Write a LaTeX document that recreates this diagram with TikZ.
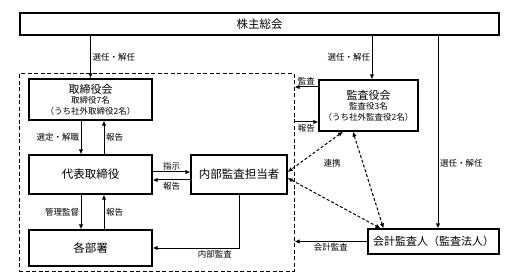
\documentclass[tikz,border=0pt]{standalone}
\usepackage{fontspec}
\setmainfont{Noto Sans CJK JP}
\usetikzlibrary{arrows.meta}
\begin{document}
\begin{tikzpicture}[x=1pt,y=-1pt,>={Latex[length=5pt,width=4.5pt]},
    box/.style={draw,line width=1.3pt,inner sep=0pt,align=center,font=\fontsize{11.5}{13}\selectfont},
    lab/.style={inner sep=1.5pt,font=\fontsize{8.5}{10}\selectfont},
    link/.style={<->,line width=1pt,dash pattern=on 3pt off 2pt}]
        \useasboundingbox (0,0) rectangle (518,280);
        % company (dashed)
        \node[draw,line width=1pt,dash pattern=on 4pt off 2.5pt,minimum width=275,minimum height=197] (kaisha) at (156.5,172.5) {};
        % boxes
        \node[box,minimum width=479,minimum height=22] (soukai) at (259.5,24) {株主総会};
        \node[box,minimum width=123,minimum height=41,font=\fontsize{8.5}{10.5}\selectfont] (torishimari) at (90.5,99.5)
            {{\fontsize{11}{12}\selectfont 取締役会}\\取締役7名\\（うち社外取締役2名）};
        \node[box,minimum width=123,minimum height=39] (daihyo) at (90.5,174.5) {代表取締役};
        \node[box,minimum width=123,minimum height=36] (kakubusho) at (90.5,248) {各部署};
        \node[box,minimum width=96,minimum height=39] (naibu) at (239,174.5) {内部監査担当者};
        \node[box,minimum width=99,minimum height=51,font=\fontsize{8.5}{10.5}\selectfont] (kansayaku) at (368.5,105.5)
            {{\fontsize{11}{12}\selectfont 監査役会}\\監査役3名\\（うち社外監査役2名）};
        \node[box,minimum width=131,minimum height=25,font=\fontsize{11}{12}\selectfont] (kaikei) at (433.5,241.5) {会計監査人（監査法人）};
        % shareholders
        \draw[->,line width=1pt](torishimari.north |- soukai.south) -- node[lab,right]{選任・解任} (torishimari.north);
        \draw[->,line width=1pt]([xshift=3.5pt]kansayaku.north |- soukai.south) -- node[lab,left]{選任・解任} ([xshift=3.5pt]kansayaku.north);
        \draw[->,line width=1pt]([xshift=4.5pt]kaikei.north |- soukai.south) -- node[lab,right,pos=0.66]{選任・解任} ([xshift=4.5pt]kaikei.north);
        % inside the company
        \draw[->,line width=1pt]([xshift=-9.5pt]torishimari.south) -- node[lab,left]{選定・解職} ([xshift=-9.5pt]daihyo.north);
        \draw[->,line width=1pt]([xshift=13.5pt]daihyo.north) -- node[lab,right]{報告} ([xshift=13.5pt]torishimari.south);
        \draw[->,line width=1pt]([xshift=-9.5pt]daihyo.south) -- node[lab,left]{管理監督} ([xshift=-9.5pt]kakubusho.north);
        \draw[->,line width=1pt]([xshift=13.5pt]kakubusho.north) -- node[lab,right]{報告} ([xshift=13.5pt]daihyo.south);
        \draw[->,line width=1pt]([yshift=2.5pt]daihyo.east) -- node[lab,above]{指示} ([yshift=2.5pt]naibu.west);
        \draw[->,line width=1pt]([yshift=-5.5pt]naibu.west) -- node[lab,below]{報告} ([yshift=-5.5pt]daihyo.east);
        \draw[->,line width=1pt](naibu.south) |- node[lab,below,pos=0.64]{内部監査} (kakubusho.east);
        % audits
        \draw[->,line width=1pt]([yshift=18.5pt]kansayaku.west) -- node[lab,above]{監査} ([yshift=18.5pt]kansayaku.west -| kaisha.east);
        \draw[->,line width=1pt]([yshift=-16.5pt]kansayaku.west -| kaisha.east) -- node[lab,below]{報告} ([yshift=-16.5pt]kansayaku.west);
        \draw[->,line width=1pt](kaikei.west) -- node[lab,below]{会計監査} (kaikei.west -| kaisha.east);
        % cooperation
        \draw[link]([xshift=-25.5pt]kansayaku.south) -- ([yshift=2.5pt]naibu.east);
        \draw[link]([yshift=-3.5pt]naibu.east) -- ([xshift=-53pt]kaikei.north);
        \draw[link]([xshift=-15.5pt]kansayaku.south) -- ([xshift=-50pt]kaikei.north);
        \node[lab] (renkei) at (332,163) {連携};
    \end{tikzpicture}
\end{document}
